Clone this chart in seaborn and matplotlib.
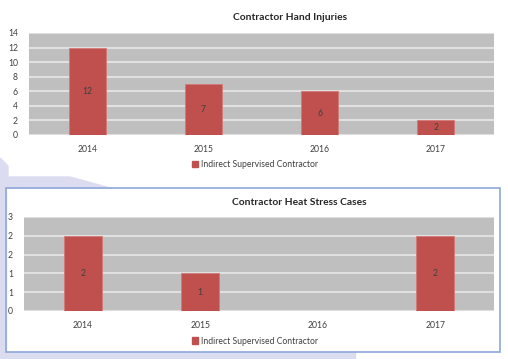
import pandas as pd
import seaborn as sns
import matplotlib.pyplot as plt
from matplotlib.patches import Patch, Polygon, Rectangle

# Data
years = ['2014', '2015', '2016', '2017']
hand_injuries = [12, 7, 6, 2]
heat_stress = [2, 1, 0, 2]
series_name = 'Indirect Supervised Contractor'

hand_ticks = [0, 2, 4, 6, 8, 10, 12, 14]
heat_ticks = [0, 0.5, 1, 1.5, 2, 2.5]
heat_tick_labels = ['0', '1', '1', '2', '2', '3']

BAR = '#C0504D'
BG = '#BFBFBF'
GRID = '#E0E0E0'
TXT = '#404040'

sns.set_style('white')
plt.rcParams['font.family'] = ['Lato', 'DejaVu Sans']

fig = plt.figure(figsize=(5.08, 3.59), dpi=100)
W, H = 508, 359


def fx(x):
    return x / W


def fy(y):
    return 1 - y / H


# lavender background shapes behind the lower chart
lav = '#DCDCF0'
fig.patches.append(Polygon([(fx(0), fy(158)), (fx(8), fy(166)), (fx(8), fy(177)),
                            (fx(70), fy(177)), (fx(110), fy(188)), (fx(0), fy(188))],
                           closed=True, transform=fig.transFigure, color=lav, zorder=0))
fig.patches.append(Rectangle((fx(0), fy(359)), fx(6), fy(188) - fy(359),
                             transform=fig.transFigure, color=lav, zorder=0))
fig.patches.append(Rectangle((fx(0), fy(359)), fx(355), fy(352) - fy(359),
                             transform=fig.transFigure, color=lav, zorder=0))
# frame of the lower chart
fig.patches.append(Rectangle((fx(6), fy(352)), fx(494), fy(188) - fy(352),
                             transform=fig.transFigure, fill=False,
                             edgecolor='#8FA8D8', linewidth=1.2, zorder=1))


def draw(ax, values, ticks, ylim, title, title_x, title_y, legend_y, tick_labels=None):
    df = pd.DataFrame({'year': years, 'value': values})
    sns.barplot(data=df, x='year', y='value', color=BAR, width=0.32,
                saturation=1, edgecolor='#D27A77', linewidth=0.6, ax=ax, zorder=3)
    ax.set_facecolor(BG)
    ax.set_ylim(*ylim)
    ax.set_xlim(-0.5, 3.5)
    ax.set_yticks(ticks)
    if tick_labels:
        ax.set_yticklabels(tick_labels)
    ax.yaxis.grid(True, color=GRID, linewidth=1.5, zorder=0)
    ax.set_axisbelow(True)
    for s in ax.spines.values():
        s.set_visible(False)
    ax.tick_params(axis='both', length=0, labelsize=6.2, colors=TXT, pad=7)
    ax.tick_params(axis='y', pad=8)
    ax.set_xlabel('')
    ax.set_ylabel('')
    labels = [str(v) if v else '' for v in values]
    ax.bar_label(ax.containers[0], labels=labels, label_type='center',
                 fontsize=6.2, color=TXT)
    fig.text(fx(title_x), fy(title_y), title, ha='center', va='center',
             fontsize=7.4, fontweight='bold', color='#262626')
    fig.legend(handles=[Patch(color=BAR, label=series_name)],
               loc='center', bbox_to_anchor=(fx(255), fy(legend_y)),
               frameon=False, fontsize=6.2, handlelength=0.7, handleheight=0.7,
               handletextpad=0.3, labelcolor=TXT)


ax1 = fig.add_axes([fx(29), fy(135), fx(494 - 29), (135 - 33) / H])
draw(ax1, hand_injuries, hand_ticks, (0, 14), 'Contractor Hand Injuries', 290, 18, 165)

ax2 = fig.add_axes([fx(24), fy(311), fx(494 - 24), (311 - 217) / H])
draw(ax2, heat_stress, heat_ticks, (0, 2.5), 'Contractor Heat Stress Cases', 299, 202, 341,
     heat_tick_labels)

fig.savefig('out.png', dpi=100, facecolor='white')
